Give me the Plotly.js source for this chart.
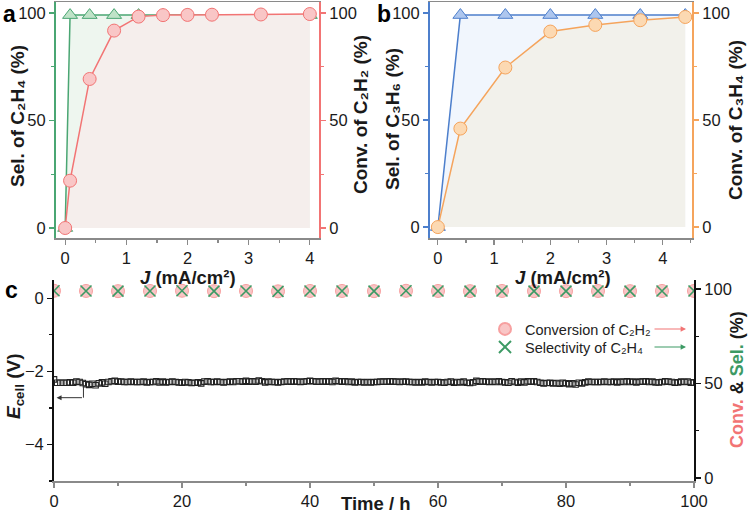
<!DOCTYPE html>
<html>
<head>
<meta charset="utf-8">
<script src="https://cdn.plot.ly/plotly-3.0.1.min.js"></script>
<style>html,body{margin:0;padding:0;background:#fff;}#chart{width:748px;height:515px;}</style>
</head>
<body>
<div id="chart"></div>
<script>
// ---- Panel a data ----
const aCurrent = [0, 0.08, 0.4, 0.8, 1.2, 1.6, 2.0, 2.4, 3.2, 4.0];
const aSelC2H4 = [0, 99, 99, 99, 99, 99, 99, 99, 99, 99];
const aConvC2H2 = [0, 22, 69.3, 91.8, 98.3, 99, 99.1, 99.2, 99.3, 99.5];
// ---- Panel b data ----
const bCurrent = [0, 0.4, 1.2, 2.0, 2.8, 3.6, 4.4];
const bSelC3H6 = [0, 99, 99, 99, 99, 99, 99];
const bConvC3H4 = [0, 46, 74.5, 91.3, 94.4, 96.6, 98.1];
// ---- Panel c data (every 0.5 h from 0 h) ----
const cTimeStart = 0, cTimeStep = 0.5;
const cEcell = [
 -2.22,-2.31,-2.31,-2.31,-2.31,-2.30,-2.31,-2.28,-2.29,-2.32,
 -2.35,-2.37,-2.34,-2.38,-2.33,-2.30,-2.34,-2.29,-2.27,-2.26,
 -2.28,-2.28,-2.29,-2.29,-2.28,-2.29,-2.29,-2.29,-2.28,-2.30,
 -2.29,-2.29,-2.27,-2.30,-2.28,-2.30,-2.29,-2.28,-2.29,-2.30,
 -2.31,-2.29,-2.30,-2.32,-2.31,-2.30,-2.33,-2.28,-2.27,-2.29,
 -2.29,-2.28,-2.29,-2.30,-2.29,-2.28,-2.29,-2.27,-2.27,-2.28,
 -2.26,-2.28,-2.27,-2.28,-2.25,-2.27,-2.30,-2.28,-2.29,-2.29,
 -2.30,-2.29,-2.28,-2.27,-2.28,-2.27,-2.28,-2.29,-2.28,-2.27,
 -2.26,-2.27,-2.28,-2.28,-2.27,-2.28,-2.27,-2.29,-2.26,-2.27,
 -2.28,-2.27,-2.29,-2.28,-2.30,-2.29,-2.29,-2.30,-2.29,-2.30,
 -2.29,-2.29,-2.28,-2.28,-2.28,-2.27,-2.28,-2.28,-2.29,-2.28,
 -2.28,-2.29,-2.29,-2.30,-2.29,-2.30,-2.28,-2.29,-2.30,-2.29,
 -2.29,-2.30,-2.31,-2.29,-2.28,-2.31,-2.29,-2.30,-2.28,-2.31,
 -2.32,-2.30,-2.26,-2.28,-2.27,-2.28,-2.29,-2.28,-2.29,-2.27,
 -2.29,-2.30,-2.31,-2.27,-2.29,-2.31,-2.28,-2.30,-2.27,-2.28,
 -2.27,-2.29,-2.31,-2.33,-2.32,-2.31,-2.33,-2.32,-2.34,-2.31,
 -2.33,-2.35,-2.33,-2.36,-2.31,-2.33,-2.30,-2.28,-2.29,-2.29,
 -2.29,-2.29,-2.28,-2.29,-2.29,-2.28,-2.30,-2.28,-2.29,-2.27,
 -2.29,-2.28,-2.30,-2.28,-2.28,-2.27,-2.29,-2.28,-2.30,-2.30,
 -2.29,-2.27,-2.28,-2.29,-2.31,-2.30,-2.28,-2.29,-2.28,-2.31,
 -2.30
];
// conversion / selectivity every 5 h
const cStabStart = 0, cStabStep = 5;
const cConv = [99.1,99.0,98.9,99.0,99.1,98.9,99.0,98.8,99.0,99.0,98.9,99.1,99.0,98.9,99.0,98.9,98.9,99.0,98.9,99.0,99.0];
const cSel  = [99.1,99.0,98.9,99.0,99.1,98.9,99.0,98.8,99.0,99.0,98.9,99.1,99.0,98.9,99.0,98.9,98.9,99.0,98.9,99.0,99.0];

const FONT = 'Liberation Sans, Arial, sans-serif';
const GREEN = '#4aa673', RED = '#f27474', BLUE = '#4d7fcc', ORANGE = '#f5a45c';
const TXT = '#1a1a1a';

const traces = [
  // panel a
  {x: aCurrent, y: aSelC2H4, xaxis:'x', yaxis:'y', mode:'lines+markers', fill:'tozeroy', fillcolor:'#eef6ef',
   line:{color:GREEN, width:1.5}, marker:{symbol:'triangle-up', size:13, color:'#bfe3c8', line:{color:GREEN, width:1}}, showlegend:false, hoverinfo:'skip'},
  {x: aCurrent, y: aConvC2H2, xaxis:'x', yaxis:'y2', mode:'lines+markers', fill:'tozeroy', fillcolor:'#f5eeec',
   line:{color:RED, width:1.5}, marker:{symbol:'circle', size:13, color:'#f9c6c6', line:{color:RED, width:1}}, showlegend:false, hoverinfo:'skip'},
  // panel b
  {x: bCurrent, y: bSelC3H6, xaxis:'x2', yaxis:'y3', mode:'lines+markers', fill:'tozeroy', fillcolor:'#f1f6fd',
   line:{color:BLUE, width:1.5}, marker:{symbol:'triangle-up', size:13, color:'#adc6ee', line:{color:BLUE, width:1}}, showlegend:false, hoverinfo:'skip'},
  {x: bCurrent, y: bConvC3H4, xaxis:'x2', yaxis:'y4', mode:'lines+markers', fill:'tozeroy', fillcolor:'#f2f1eb',
   line:{color:ORANGE, width:1.5}, marker:{symbol:'circle', size:13, color:'#fcd9b2', line:{color:ORANGE, width:1}}, showlegend:false, hoverinfo:'skip'},
  // panel c
  {x0: cTimeStart, dx: cTimeStep, y: cEcell, xaxis:'x3', yaxis:'y5', mode:'markers',
   marker:{symbol:'square-open', size:5.5, color:'#222', line:{width:1.1}}, showlegend:false, hoverinfo:'skip'},
  {x0: cStabStart, dx: cStabStep, y: cConv, xaxis:'x3', yaxis:'y6', mode:'markers', name:'Conversion of C₂H₂', legend:'legend',
   marker:{symbol:'circle', size:13, color:'#f9c6c6', line:{color:'#f7a0a0', width:1}}, showlegend:true, hoverinfo:'skip'},
  {x0: cStabStart, dx: cStabStep, y: cSel, xaxis:'x3', yaxis:'y6', mode:'markers', name:'Selectivity of C₂H₄', legend:'legend2',
   marker:{symbol:'x-thin-open', size:11, color:'#3c9a64', line:{color:'#3c9a64', width:1.6}}, showlegend:true, hoverinfo:'skip'}
];

const tickFont = {family:FONT, size:16.5, color:TXT};
function xax(domain, anchor, range, dtick, minor, color, mirror){
  return {domain, anchor, range, dtick, tick0:0, ticks:'outside', ticklen:5, tickwidth:1.2, tickcolor:color,
    minor:{dtick:minor, ticks:'outside', ticklen:3, tickcolor:color, tickwidth:1.2},
    showline:true, linecolor:color, linewidth:1.5, mirror:mirror, showgrid:false, zeroline:false,
    tickfont:tickFont, fixedrange:true};
}
function yax(domain, anchor, range, tickvals, minor, color, side, overlaying){
  const o = {domain, anchor, range, tickvals, ticks:'outside', ticklen:5, tickwidth:1.2, tickcolor:color,
    minor:{dtick:minor, ticks:'outside', ticklen:3, tickcolor:color, tickwidth:1.2},
    showline:true, linecolor:color, linewidth:2, showgrid:false, zeroline:false, side:side,
    tickfont:tickFont, fixedrange:true};
  if(overlaying) o.overlaying = overlaying;
  return o;
}

const W = 748, H = 515;
const px = v => v / W, py = v => 1 - v / H;
const topDom = [py(238), py(2)];
const botDom = [py(481), py(280)];
const Jtitle = '<b><i>J</i> (mA/cm²)</b>';

function ytitle(text, x, y, size){
  return {text, xref:'paper', yref:'paper', x:px(x), y:py(y), xanchor:'center', yanchor:'middle', textangle:-90, showarrow:false,
    borderpad:0, font:{family:FONT, size:size || 19, color:TXT}};
}
function xtitle(text, x, y){
  return {text, xref:'paper', yref:'paper', x:px(x), y:py(y), xanchor:'center', yanchor:'middle', showarrow:false,
    borderpad:0, font:{family:FONT, size:18.5, color:TXT}};
}
const legFont = {family:FONT, size:14.5, color:'#222'};

const layout = {
  width:W, height:H, margin:{l:0, r:0, t:0, b:0}, paper_bgcolor:'#fff', plot_bgcolor:'rgba(0,0,0,0)',
  font:{family:FONT, color:TXT},
  xaxis: xax([px(56), px(319)], 'y', [-0.15, 4.15], 1, 0.5, '#8a8a8a', true),
  yaxis: yax(topDom, 'x', [-4.65, 105.1], [0,50,100], 25, GREEN, 'left', null),
  yaxis2: yax(topDom, 'x', [-4.65, 105.1], [0,50,100], 25, RED, 'right', 'y'),
  xaxis2: xax([px(430), px(692)], 'y3', [-0.14, 4.52], 1, 0.5, '#8a8a8a', true),
  yaxis3: yax(topDom, 'x2', [-5.1, 105.1], [0,50,100], 25, BLUE, 'left', null),
  yaxis4: yax(topDom, 'x2', [-5.1, 105.1], [0,50,100], 25, ORANGE, 'right', 'y3'),
  xaxis3: xax([px(54), px(694)], 'y5', [0, 100], 20, 10, '#8a8a8a', false),
  yaxis5: yax(botDom, 'x3', [-5, 0.5], [-4,-2,0], 1, '#111', 'left', null),
  yaxis6: yax(botDom, 'x3', [-1.6, 104.8], [0,50,100], 25, '#111', 'right', 'y5'),
  legend:{x:px(485), y:py(329), xanchor:'left', yanchor:'middle', bgcolor:'rgba(0,0,0,0)', borderwidth:0,
    font:legFont, itemsizing:'constant'},
  legend2:{x:px(485), y:py(347), xanchor:'left', yanchor:'middle', bgcolor:'rgba(0,0,0,0)', borderwidth:0,
    font:legFont, itemsizing:'constant'},
  showlegend:true,
  annotations:[
    ytitle('<b>Sel. of C₂H₄ (%)</b>', 17, 116),
    ytitle('<b>Conv. of C₂H₂ (%)</b>', 360, 115),
    ytitle('<b>Sel. of C₃H₆ (%)</b>', 392, 119),
    ytitle('<b>Conv. of C₃H₄ (%)</b>', 735, 120),
    xtitle(Jtitle, 188, 277),
    xtitle(Jtitle, 563, 277),
    ytitle('<b><i>E</i><sub>cell</sub> (V)</b>', 15, 387),
    ytitle('<b><span style="color:#f27474">Conv.</span> & <span style="color:#3c9a64">Sel.</span> (%)</b>', 737, 380, 18),
    xtitle('<b>Time / h</b>', 376, 503),
    {text:'<b>a</b>', xref:'paper', yref:'paper', x:px(9), y:py(14), xanchor:'center', yanchor:'middle', showarrow:false, font:{family:FONT, size:23, color:'#000'}},
    {text:'<b>b</b>', xref:'paper', yref:'paper', x:px(384), y:py(14), xanchor:'center', yanchor:'middle', showarrow:false, font:{family:FONT, size:23, color:'#000'}},
    {text:'<b>c</b>', xref:'paper', yref:'paper', x:px(11), y:py(290), xanchor:'center', yanchor:'middle', showarrow:false, font:{family:FONT, size:23, color:'#000'}},
    // legend arrows
    {xref:'paper', yref:'paper', x:px(686), y:py(329), ax:-33, ay:0, text:'', showarrow:true, arrowhead:2, arrowsize:0.9, arrowwidth:1.2, arrowcolor:'#f27474'},
    {xref:'paper', yref:'paper', x:px(686), y:py(347), ax:-33, ay:0, text:'', showarrow:true, arrowhead:2, arrowsize:0.9, arrowwidth:1.2, arrowcolor:'#3c9a64'},
    // E_cell axis indicator arrow
    {xref:'x3', yref:'y5', x:0.4, y:-2.72, axref:'x3', ayref:'y5', ax:4.6, ay:-2.72, text:'', showarrow:true, arrowhead:2, arrowsize:1, arrowwidth:1, arrowcolor:'#333'}
  ],
  shapes:[
    {type:'line', xref:'x3', yref:'y5', x0:4.6, x1:4.6, y0:-2.36, y1:-2.72, line:{color:'#333', width:1}}
  ]
};

Plotly.newPlot('chart', traces, layout, {displayModeBar:false, staticPlot:true});
</script>
</body>
</html>
